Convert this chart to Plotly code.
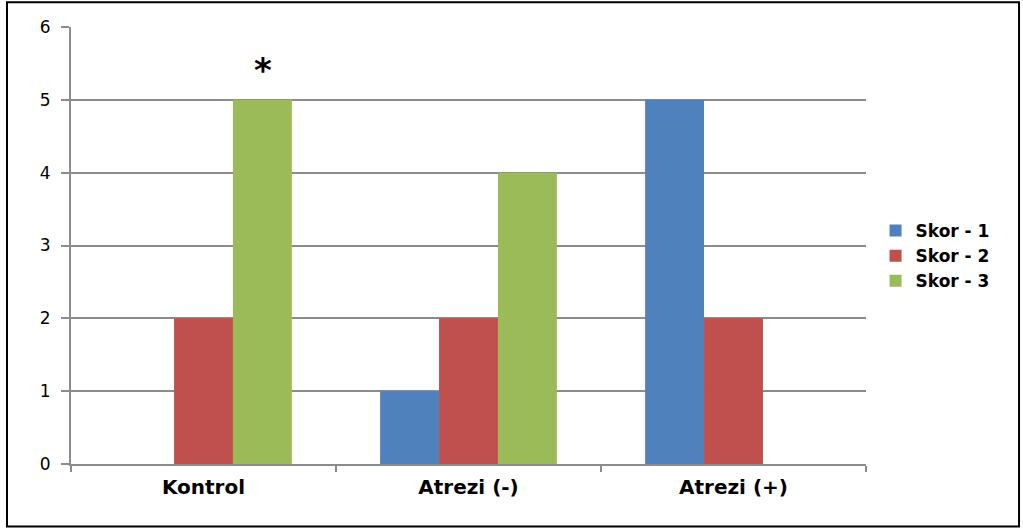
import plotly.graph_objects as go

categories = ["Kontrol", "Atrezi (-)", "Atrezi (+)"]
series_names = ["Skor - 1", "Skor - 2", "Skor - 3"]
skor1 = [0, 1, 5]
skor2 = [2, 2, 2]
skor3 = [5, 4, 0]
colors = ["#4F81BD", "#C0504D", "#9BBB59"]
y_ticks = [0, 1, 2, 3, 4, 5, 6]

fig = go.Figure()
for name, vals, col in zip(series_names, [skor1, skor2, skor3], colors):
    fig.add_trace(go.Bar(x=categories, y=vals, name=name,
                         marker=dict(color=col, line=dict(width=0))))

grid = "#8C8C8C"
fig.update_layout(
    width=1023, height=530,
    margin=dict(l=71, r=157, t=27, b=66),
    paper_bgcolor="white", plot_bgcolor="white",
    barmode="group", bargap=0.333, bargroupgap=0,
    font=dict(family="DejaVu Sans", color="black"),
    xaxis=dict(showgrid=False, showline=True, linecolor=grid, linewidth=2,
               ticks="outside", tickson="boundaries", ticklen=6, tickcolor=grid, tickwidth=2,
               tickfont=dict(size=20, family="DejaVu Sans", weight="bold"),
               ticklabelstandoff=4),
    yaxis=dict(range=[0, 6], tickvals=y_ticks, showgrid=True, gridcolor=grid, gridwidth=2,
               showline=True, linecolor=grid, linewidth=2, zeroline=False,
               ticks="outside", ticklen=8, tickcolor=grid, tickwidth=2,
               tickfont=dict(size=17), ticklabelstandoff=7),
    legend=dict(x=1.012, y=0.476, xanchor="left", yanchor="middle",
                font=dict(size=17, weight="bold"), itemwidth=30, tracegroupgap=0),
    showlegend=True,
)

fig.add_annotation(x=categories[0], y=skor3[0], text="*", showarrow=False,
                   xshift=59, yshift=30, font=dict(size=34, color="black", weight="bold"))

fig.add_shape(type="rect", xref="paper", yref="paper",
              x0=-0.0805, x1=1.1925, y0=-0.143, y1=1.0565,
              line=dict(color="black", width=2), fillcolor="rgba(0,0,0,0)", layer="above")

fig.write_html("out.html")
